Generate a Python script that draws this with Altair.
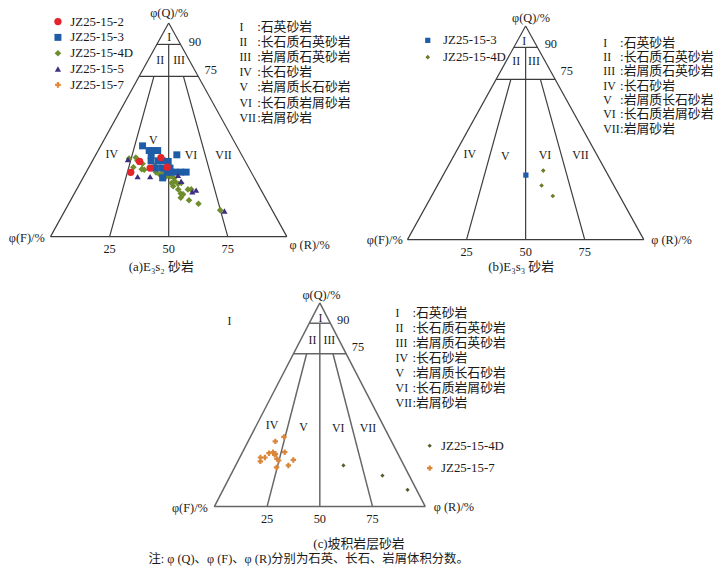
import altair as alt
import pandas as pd

# ---------------- sample names ----------------
SAMPLES_A = ["JZ25-15-2", "JZ25-15-3", "JZ25-15-4D", "JZ25-15-5", "JZ25-15-7"]
SAMPLES_B = ["JZ25-15-3", "JZ25-15-4D"]
SAMPLES_C = ["JZ25-15-4D", "JZ25-15-7"]

# ---------------- point data: Q = quartz %, R = rock fragments %, F = 100 - Q - R ----------------
# (a) E3s2
A_2_Q = [37.0, 35.2, 32.1, 30.1, 32.5]
A_2_R = [28.2, 20.1, 26.1, 18.9, 33.1]
A_3_Q = [42.5, 40.3, 40.3, 40.3, 38.0, 35.5, 35.5, 35.5, 38.3, 35.2, 32.1, 32.1,
         30.2, 30.2, 30.2, 30.2, 30.2, 27.5, 32.1]
A_3_R = [17.7, 21.6, 23.4, 25.2, 23.6, 24.8, 27.8, 29.5, 34.3, 32.2, 28.2, 31.0,
         34.3, 35.8, 37.5, 40.0, 42.3, 33.7, 34.5]
A_4D_Q = [37.0, 35.5, 32.5, 34.1, 31.6, 31.3, 33.2, 30.2, 29.0, 28.2, 25.1, 25.9,
          24.7, 25.1, 22.1, 20.2, 23.6, 22.1, 22.1, 19.8, 18.2, 17.0, 15.4, 12.4,
          30.1, 28.2, 27.3, 36.5]
A_4D_R = [17.6, 19.0, 18.8, 21.9, 22.8, 24.0, 27.6, 32.6, 31.8, 36.4, 38.6, 39.6,
          41.6, 42.8, 43.0, 45.0, 40.1, 47.1, 48.5, 46.2, 46.0, 50.1, 54.9, 65.6,
          29.6, 34.9, 38.6, 15.0]
A_5_Q = [36.1, 28.1, 28.1, 28.7, 25.9, 21.0, 21.8, 12.0]
A_5_R = [14.7, 22.8, 28.1, 39.6, 42.3, 49.5, 50.7, 67.6]
# (b) E3s3
B_3_Q = [30.2]
B_3_R = [35.0]
B_4D_Q = [32.3, 25.3, 20.4]
B_4D_R = [41.3, 44.1, 51.3]
# (c) colluvial sandstone
C_4D_Q = [20.2, 15.2, 8.2]
C_4D_R = [51.1, 72.1, 87.5]
C_7_Q = [34.2, 32.0, 26.7, 26.2, 25.4, 24.1, 24.1, 22.2, 23.4, 22.6, 26.7, 22.9, 20.2, 19.2, 25.9]
C_7_R = [15.9, 12.9, 14.5, 12.8, 15.9, 9.8, 11.9, 10.7, 18.0, 19.2, 20.0, 26.0, 25.0, 19.9, 16.0]

# ---------------- texts ----------------
TICKS = [25, 50, 75]
Q_LEVELS = ["90", "75"]
REGIONS = ["I", "II", "III", "IV", "V", "VI", "VII"]
ROCK_NAMES = ["石英砂岩", "长石质石英砂岩", "岩屑质石英砂岩", "长石砂岩",
              "岩屑质长石砂岩", "长石质岩屑砂岩", "岩屑砂岩"]
TITLES = {"a": "(a)E₃s₂ 砂岩", "b": "(b)E₃s₃ 砂岩", "c": "(c)坡积岩层砂岩"}
AX_Q, AX_F, AX_R = "φ(Q)/%", "φ(F)/%", "φ (R)/%"
NOTE = "注: φ (Q)、φ (F)、φ (R)分别为石英、长石、岩屑体积分数。"

# ---------------- classification boundaries (Q1, R1, Q2, R2) in ternary % ----------------
SEGMENTS = [(0, 0, 0, 100), (0, 0, 100, 0), (0, 100, 100, 0),
            (90, 0, 90, 10), (75, 0, 75, 25),
            (90, 5, 0, 50), (75, 6.25, 0, 25), (75, 18.75, 0, 75)]

# ---------------- layout (page pixels) ----------------
GEOM = {"a": (51, 290, 236, 20), "b": (412, 651, 239, 23), "c": (216.7, 430, 509, 303)}
LAY = {
    "a": dict(q=(171, 10), f=(27, 237), r=(313, 245), title=(163, 267),
              lv=[(197, 39), (213, 68)],
              reg=[(171, 34), (162, 57), (181, 57), (113, 152), (155, 138), (193, 154), (226, 154)],
              names=(242, 260, 24, 15.3)),
    "b": dict(q=(537, 15), f=(389, 239), r=(679, 239), title=(527, 267),
              lv=[(557, 41), (573, 69)],
              reg=[(530, 38), (522, 58), (540, 58), (475, 152), (511, 155), (551, 154), (587, 154)],
              names=(610, 627, 40, 14.5)),
    "c": dict(q=(325, 295), f=(192, 510), r=(459, 509), title=(363, 547),
              lv=[(347, 320), (362, 348)],
              reg=[(324, 318), (316, 341), (333, 341), (275, 427), (307, 429), (342, 430), (372, 430)],
              names=(400, 417, 313.5, 15.1)),
}
EXTRA_I = (232, 321)
NOTE_POS = (150, 562)

SERIF = "'Liberation Serif', 'Times New Roman', 'Noto Sans CJK SC', serif"
TXT = "#1a1a1a"


def tern(panel, q, r):
    l, rr, b, t = GEOM[panel]
    return l + (rr - l) * (r + q / 2) / 100, b - (b - t) * q / 100


# points
pts = []
for panel, sample, Qs, Rs in [
    ("a", "JZ25-15-4D", A_4D_Q, A_4D_R), ("a", "JZ25-15-3", A_3_Q, A_3_R),
    ("a", "JZ25-15-2", A_2_Q, A_2_R), ("a", "JZ25-15-5", A_5_Q, A_5_R),
    ("b", "JZ25-15-3", B_3_Q, B_3_R), ("b", "JZ25-15-4D", B_4D_Q, B_4D_R),
    ("c", "JZ25-15-4D", C_4D_Q, C_4D_R), ("c", "JZ25-15-7", C_7_Q, C_7_R),
]:
    for q, r in zip(Qs, Rs):
        x, y = tern(panel, q, r)
        pts.append(dict(panel=panel, sample=sample, Q=q, R=r, F=100 - q - r, px=x, py=y))
pts = pd.DataFrame(pts)

# segments
segs = []
for panel in ["a", "b", "c"]:
    for q1, r1, q2, r2 in SEGMENTS:
        x1, y1 = tern(panel, q1, r1)
        x2, y2 = tern(panel, q2, r2)
        segs.append(dict(panel=panel, px=x1, py=y1, px2=x2, py2=y2))
segs = pd.DataFrame(segs)

# texts
ctext = []
ltext = []
for p, L in LAY.items():
    ctext.append(dict(px=L["q"][0], py=L["q"][1], t=AX_Q, fs=12.5))
    ctext.append(dict(px=L["f"][0], py=L["f"][1], t=AX_F, fs=12.5))
    ctext.append(dict(px=L["r"][0], py=L["r"][1], t=AX_R, fs=12.5))
    ctext.append(dict(px=L["title"][0], py=L["title"][1], t=TITLES[p], fs=13))
    for (x, y), s in zip(L["lv"], Q_LEVELS):
        ctext.append(dict(px=x, py=y, t=s, fs=12.5))
    for (x, y), s in zip(L["reg"], REGIONS):
        ctext.append(dict(px=x, py=y, t=s, fs=12))
    for tk in TICKS:
        x, y = tern(p, 0, tk)
        ctext.append(dict(px=x, py=y + 13, t=str(tk), fs=12.5))
    nx, cx, y0, dy = L["names"]
    for i, (rg, nm) in enumerate(zip(REGIONS, ROCK_NAMES)):
        ltext.append(dict(px=nx, py=y0 + i * dy, t=rg, fs=12))
        ltext.append(dict(px=cx, py=y0 + i * dy, t=":" + nm, fs=13))
ctext.append(dict(px=EXTRA_I[0], py=EXTRA_I[1], t="I", fs=12))
ltext.append(dict(px=NOTE_POS[0], py=NOTE_POS[1], t=NOTE, fs=12.5))
ctext = pd.DataFrame(ctext)
ltext = pd.DataFrame(ltext)

W, H = 714, 567
XS = alt.Scale(domain=[8, 722], nice=False, zero=False)
YS = alt.Scale(domain=[8, 575], nice=False, zero=False, reverse=True)
X = alt.X("px:Q", scale=XS, axis=None)
Y = alt.Y("py:Q", scale=YS, axis=None)

rules_ab = alt.Chart(segs[segs.panel != "c"]).mark_rule(color="#3c3c3c", strokeWidth=1.2).encode(
    x=X, y=Y, x2="px2:Q", y2="py2:Q")
rules_c = alt.Chart(segs[segs.panel == "c"]).mark_rule(color="#666666", strokeWidth=1.5).encode(
    x=X, y=Y, x2="px2:Q", y2="py2:Q")

t_center = alt.Chart(ctext).mark_text(font=SERIF, color=TXT, align="center", baseline="middle").encode(
    x=X, y=Y, text="t:N", size=alt.Size("fs:Q", scale=None, legend=None))
t_left = alt.Chart(ltext).mark_text(font=SERIF, color=TXT, align="left", baseline="middle").encode(
    x=X, y=Y, text="t:N", size=alt.Size("fs:Q", scale=None, legend=None))


def leg(x, y, row_pad, off):
    return alt.Legend(orient="none", legendX=x, legendY=y, title=None, labelFont=SERIF,
                      labelFontSize=13, labelColor=TXT, rowPadding=row_pad, labelOffset=off,
                      padding=0)


def point_layer(panel, samples, colors, shapes, sizes, lg):
    return alt.Chart(pts[pts.panel == panel]).mark_point(filled=True, opacity=1).encode(
        x=X, y=Y,
        color=alt.Color("sample:N", scale=alt.Scale(domain=samples, range=colors), legend=lg),
        shape=alt.Shape("sample:N", scale=alt.Scale(domain=samples, range=shapes), legend=lg),
        size=alt.Size("sample:N", scale=alt.Scale(domain=samples, range=sizes), legend=lg),
    )


pa = point_layer("a", SAMPLES_A,
                 ["#e3242b", "#1f5ca8", "#6f8d2c", "#3e2f80", "#e8893a"],
                 ["circle", "square", "diamond", "triangle-up", "cross"],
                 [55, 34, 30, 32, 28], leg(44, 4, 2, 6))
pb = point_layer("b", SAMPLES_B, ["#1f5ca8", "#6b7d2a"], ["square", "diamond"],
                 [28, 22], leg(418, 23, 3, 9))
pc = point_layer("c", SAMPLES_C, ["#4e5e2a", "#d9873b"], ["diamond", "cross"],
                 [18, 30], leg(420, 433, 8.6, 5))

chart = alt.layer(rules_ab, rules_c, t_center, t_left, pa, pb, pc).resolve_scale(
    color="independent", shape="independent", size="independent"
).properties(
    width=W, height=H, padding=0, autosize=alt.AutoSizeParams(type="none"),
    background="white"
).configure_view(stroke=None)

chart.save("out.html", embed_options={"renderer": "svg", "actions": False})
